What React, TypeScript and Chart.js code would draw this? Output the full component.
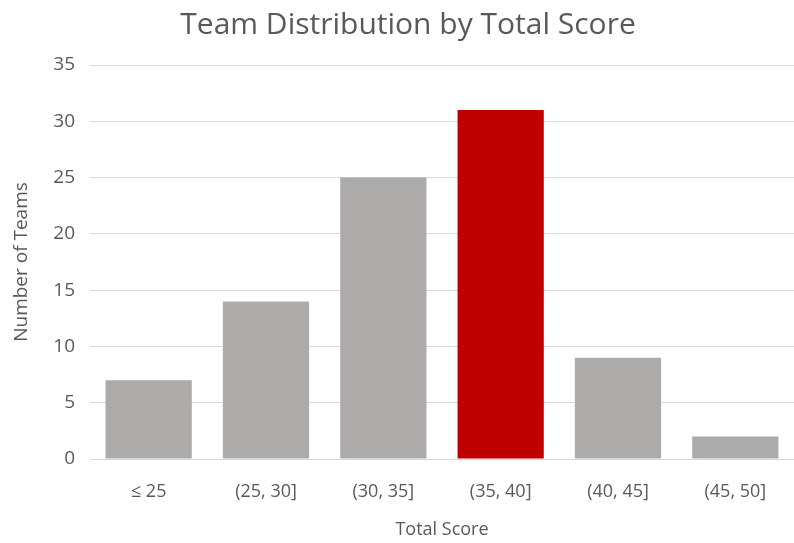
import React, { useEffect, useRef } from "react";
import { Chart, registerables } from "chart.js";

Chart.register(...registerables);

const categories = ["≤ 25", "(25, 30]", "(30, 35]", "(35, 40]", "(40, 45]", "(45, 50]"];
const teamCounts = [7, 14, 25, 31, 9, 2];
const barColors = ["#ADAAAA", "#ADAAAA", "#ADAAAA", "#C00000", "#ADAAAA", "#ADAAAA"];
const yTicks = [0, 5, 10, 15, 20, 25, 30, 35];

const FONT = "'Open Sans', 'Noto Sans', sans-serif";
const TEXT = "#595959";

export default function App() {
  const ref = useRef<HTMLCanvasElement | null>(null);

  useEffect(() => {
    if (!ref.current) return;
    const chart = new Chart(ref.current, {
      type: "bar",
      data: {
        labels: categories,
        datasets: [
          {
            data: teamCounts,
            backgroundColor: barColors,
            borderWidth: 0,
            barPercentage: 0.735,
            categoryPercentage: 1,
          },
        ],
      },
      options: {
        animation: false,
        responsive: false,
        maintainAspectRatio: false,
        layout: { padding: { left: 22, right: 0, top: 0, bottom: 0 } },
        plugins: {
          legend: { display: false },
          tooltip: { enabled: false },
          title: {
            display: true,
            text: "Team Distribution by Total Score",
            color: TEXT,
            font: { family: FONT, size: 30, weight: "normal" },
            padding: { top: 7, bottom: 22 },
          },
        },
        scales: {
          x: {
            grid: { display: false, drawTicks: false },
            border: { display: true, color: "#D9D9D9", width: 1 },
            ticks: {
              color: TEXT,
              font: { family: FONT, size: 18 },
              padding: 22,
              maxRotation: 0,
            },
            title: {
              display: true,
              text: "Total Score",
              color: TEXT,
              font: { family: FONT, size: 18 },
              padding: { top: 0, bottom: 2 },
            },
            afterFit: (s: any) => {
              s.height = 84;
            },
          },
          y: {
            min: 0,
            max: 35,
            afterBuildTicks: (s: any) => {
              s.ticks = yTicks.map((v) => ({ value: v }));
            },
            grid: { color: "#D9D9D9", drawTicks: false, lineWidth: 1 },
            border: { display: false },
            ticks: {
              color: TEXT,
              font: { family: FONT, size: 19 },
              padding: 15,
            },
            title: {
              display: true,
              text: "Number of Teams",
              color: TEXT,
              font: { family: FONT, size: 19 },
              padding: { top: -12, bottom: 0 },
            },
            afterFit: (s: any) => {
              s.width = 68;
            },
          },
        },
      },
    });
    return () => chart.destroy();
  }, []);

  return (
    <div style={{ position: "fixed", left: 0, top: 0, width: 794, height: 543, background: "#fff" }}>
      <canvas ref={ref} width={794} height={543} style={{ width: 794, height: 543 }} />
    </div>
  );
}
